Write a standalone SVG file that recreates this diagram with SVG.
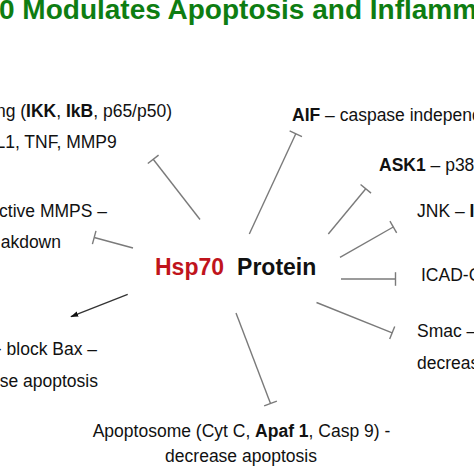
<svg xmlns="http://www.w3.org/2000/svg" width="474" height="474" viewBox="0 0 474 474">
<style>
text{font-family:"Liberation Sans",Arial,sans-serif;fill:#111}
.t{font-size:17.5px}
.b{font-weight:bold}
.title{font-size:28px;font-weight:bold;fill:#0e7d12}
.hub{font-size:23px;font-weight:bold}
.inh{stroke:#7a7a7a;stroke-width:1.4;fill:none;marker-end:url(#tee)}
.act{stroke:#333;stroke-width:1.3;fill:none;marker-end:url(#arr)}
</style>
<defs>
<marker id="tee" viewBox="-2 -8 4 16" refX="0" refY="0" markerWidth="4" markerHeight="16" orient="auto" markerUnits="userSpaceOnUse">
<line x1="0" y1="-6.8" x2="0" y2="6.8" stroke="#7a7a7a" stroke-width="1.4"/>
</marker>
<marker id="arr" viewBox="0 -4 10 8" refX="9" refY="0" markerWidth="8" markerHeight="7" orient="auto" markerUnits="userSpaceOnUse">
<path d="M0,-3.3 L10,0 L0,3.3z" fill="#111"/>
</marker>
</defs>
<rect width="474" height="474" fill="#fff"/>
<g id="title"><text class="title" x="-1" y="19">0 Modulates Apoptosis and Inflamm</text></g>
<g id="hub"><text class="hub" x="155" y="275"><tspan fill="#c0141c">Hsp70</tspan><tspan dx="13">Protein</tspan></text></g>
<g id="nfkb"><text class="t" x="172" y="117" text-anchor="end">ng (<tspan class="b">IKK</tspan>, <tspan class="b">IkB</tspan>, p65/p50)</text>
<text class="t" x="-4.5" y="148">L1, TNF, MMP9</text></g>
<g id="mmps"><text class="t" x="107" y="217" text-anchor="end">ctive MMPS –</text>
<text class="t" x="61" y="248" text-anchor="end">akdown</text></g>
<g id="bax"><text class="t" x="97" y="355" text-anchor="end">- block Bax –</text>
<text class="t" x="98" y="387" text-anchor="end">se apoptosis</text></g>
<g id="apoptosome"><text class="t" x="241.5" y="437" text-anchor="middle">Apoptosome (Cyt C, <tspan class="b">Apaf 1</tspan>, Casp 9) -</text>
<text class="t" x="241" y="462" text-anchor="middle">decrease apoptosis</text></g>
<g id="aif"><text class="t" x="292" y="120.5"><tspan class="b">AIF</tspan> – caspase independe</text></g>
<g id="ask1"><text class="t" x="379" y="170.5"><tspan class="b">ASK1</tspan> – p38</text></g>
<g id="jnk"><text class="t" x="417" y="217">JNK – <tspan class="b">I</tspan></text></g>
<g id="icad"><text class="t" x="421" y="281">ICAD-C</text></g>
<g id="smac"><text class="t" x="417" y="337">Smac –</text>
<text class="t" x="417" y="369">decreas</text></g>
<g id="connectors">
<line class="inh" x1="200" y1="219.5" x2="153.2" y2="159.3"/>
<line class="inh" x1="133" y1="248" x2="94.2" y2="237.5"/>
<line class="act" x1="127.7" y1="294.3" x2="71" y2="316.7"/>
<line class="inh" x1="236" y1="313" x2="270.5" y2="403.5"/>
<line class="inh" x1="316.5" y1="302.5" x2="392.2" y2="332.8"/>
<line class="inh" x1="341" y1="279" x2="395.5" y2="279"/>
<line class="inh" x1="340" y1="257.3" x2="393.3" y2="227"/>
<line class="inh" x1="328.3" y1="234" x2="365.8" y2="188.8"/>
<line class="inh" x1="249.3" y1="234" x2="295.8" y2="133.7"/>
</g>
</svg>
